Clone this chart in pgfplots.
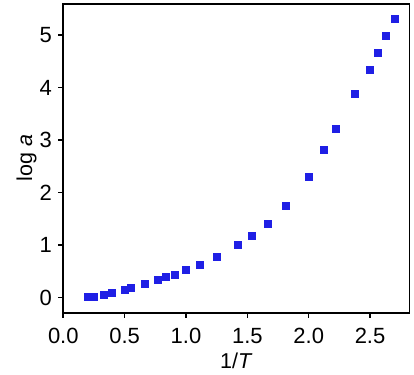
\documentclass[border=0pt]{standalone}
\usepackage{pgfplots}
\pgfplotsset{compat=1.18}
\usepackage{fontspec}
\setmainfont{Liberation Sans}
\definecolor{ptblue}{rgb}{0.12,0.12,0.90}
\begin{document}
\begin{tikzpicture}
\useasboundingbox (-63.3bp,-62.3bp) rectangle (350.7bp,312.7bp);
\begin{axis}[
  scale only axis,
  width=346bp, height=308.7bp,
  xmin=0, xmax=2.82, ymin=-0.29, ymax=5.59,
  xtick={0,0.5,1,1.5,2,2.5},
  ytick={0,1,2,3,4,5},
  xticklabel style={yshift=-7bp, /pgf/number format/.cd,fixed,fixed zerofill,precision=1},
  /pgf/number format/assume math mode=true,
  tick align=outside,
  major tick length=5bp,
  axis line style={line width=1.6bp},
  every tick/.style={line width=1.6bp, black},
  xtick pos=bottom, ytick pos=left,
  tick label style={font=\fontsize{22bp}{26bp}\selectfont},
  label style={font=\fontsize{21.5bp}{25bp}\selectfont},
  yticklabel style={xshift=-3bp},
  xlabel={1/\textit{T}},
  ylabel={log \textit{a}},
  xlabel style={yshift=-2bp},
  ylabel style={yshift=-4bp},
]
\addplot[only marks, mark=square*, mark size=3.5bp, color=ptblue, mark options={draw=ptblue, fill=ptblue}] coordinates {
(0.199,0.01) (0.245,0.01) (0.332,0.05) (0.397,0.09) (0.500,0.15)
(0.552,0.19) (0.663,0.26) (0.766,0.34) (0.832,0.39) (0.905,0.44)
(0.995,0.53) (1.109,0.63) (1.247,0.77) (1.424,1.00) (1.532,1.17)
(1.663,1.40) (1.815,1.75) (2.000,2.30) (2.122,2.81) (2.217,3.22)
(2.375,3.89) (2.494,4.33) (2.559,4.66) (2.627,4.98) (2.698,5.31)
};
\end{axis}
\end{tikzpicture}
\end{document}
